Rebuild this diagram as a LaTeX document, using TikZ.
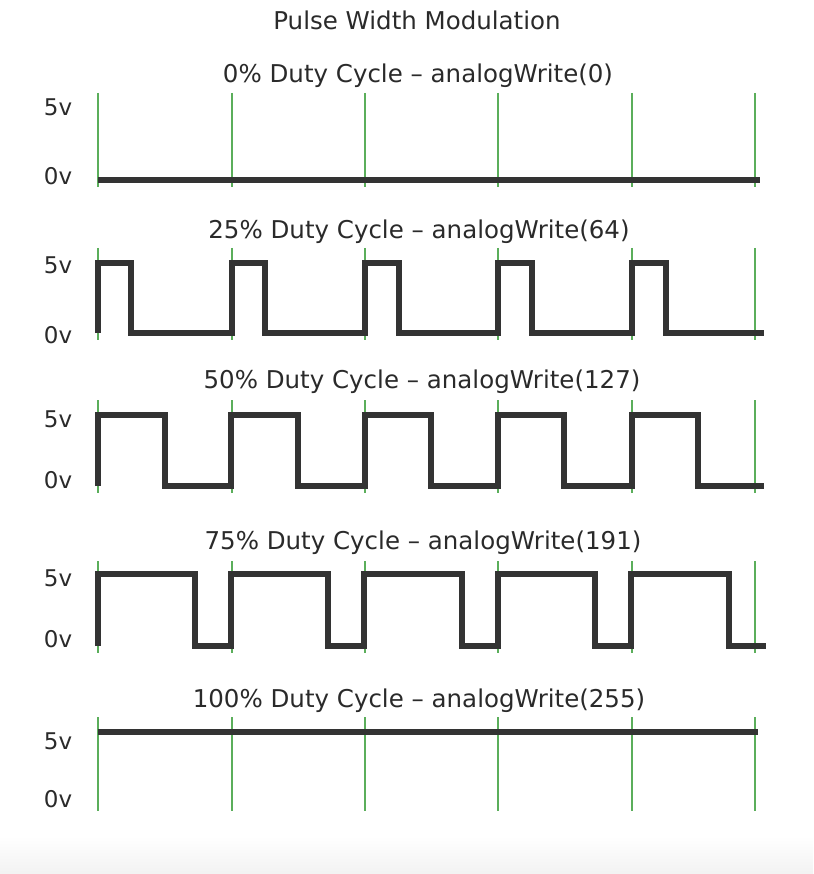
\documentclass[tikz,border=0pt]{standalone}
\usepackage{fontspec}
\setmainfont{DejaVu Sans}
\definecolor{wavecol}{HTML}{333333}
\definecolor{gridgreen}{HTML}{5BAE5B}
\definecolor{txtcol}{HTML}{2A2A2A}
\begin{document}
\begin{tikzpicture}[x=1pt,y=-1pt,
  ttl/.style={anchor=base,inner sep=0pt,text=txtcol,font=\fontsize{24.5}{29}\selectfont},
  lbl/.style={anchor=base,inner sep=0pt,text=txtcol,font=\fontsize{23}{27}\selectfont},
  wave/.style={draw=wavecol,line width=5.5pt,line join=miter},
  tick/.style={draw=gridgreen,line width=2pt}]
\useasboundingbox (0,0) rectangle (813,874);
\shade[top color=white,bottom color=black!5] (0,836) rectangle (813,874);
% titles
\node[ttl] (title) at (417,30) {Pulse Width Modulation};
\node[ttl] (t0) at (418,83) {0\% Duty Cycle – analogWrite(0)};
\node[ttl] (t25) at (419,239) {25\% Duty Cycle – analogWrite(64)};
\node[ttl] (t50) at (422,388) {50\% Duty Cycle – analogWrite(127)};
\node[ttl] (t75) at (423,549) {75\% Duty Cycle – analogWrite(191)};
\node[ttl] (t100) at (419,707) {100\% Duty Cycle – analogWrite(255)};
% labels
\node[lbl] (a5) at (58,116) {5v};
\node[lbl] (a0) at (58,185) {0v};
\node[lbl] (b5) at (58,273) {5v};
\node[lbl] (b0) at (58,343) {0v};
\node[lbl] (c5) at (58,427) {5v};
\node[lbl] (c0) at (58,488) {0v};
\node[lbl] (d5) at (58,586) {5v};
\node[lbl] (d0) at (58,647) {0v};
\node[lbl] (e5) at (58,749) {5v};
\node[lbl] (e0) at (58,807) {0v};
% green grid lines
\foreach \ya/\yb in {93/187,248/340,400/493,561/653,717/811}{
  \foreach \x in {98,232,365,498,632,755}{
    \draw[tick] (\x,\ya) -- (\x,\yb);
  }
}
% 0%
\draw[wave] (98,180) -- (760,180);
% 25%
\draw[wave] (98,333) -- (98,263) -- (131,263) -- (131,333) -- (232,333) -- (232,263) -- (265,263) -- (265,333)
  -- (365,333) -- (365,263) -- (399,263) -- (399,333) -- (498,333) -- (498,263) -- (532,263) -- (532,333)
  -- (632,333) -- (632,263) -- (666,263) -- (666,333) -- (764,333);
% 50%
\draw[wave] (98,486) -- (98,415) -- (165,415) -- (165,486) -- (231,486) -- (231,415) -- (298,415) -- (298,486)
  -- (365,486) -- (365,415) -- (431,415) -- (431,486) -- (498,486) -- (498,415) -- (564,415) -- (564,486)
  -- (632,486) -- (632,415) -- (698,415) -- (698,486) -- (764,486);
% 75%
\draw[wave] (98,646) -- (98,574) -- (195,574) -- (195,646) -- (231,646) -- (231,574) -- (328,574) -- (328,646)
  -- (364,646) -- (364,574) -- (462,574) -- (462,646) -- (498,646) -- (498,574) -- (595,574) -- (595,646)
  -- (631,646) -- (631,574) -- (729,574) -- (729,646) -- (766,646);
% 100%
\draw[wave] (98,732) -- (758,732);
\end{tikzpicture}
\end{document}
